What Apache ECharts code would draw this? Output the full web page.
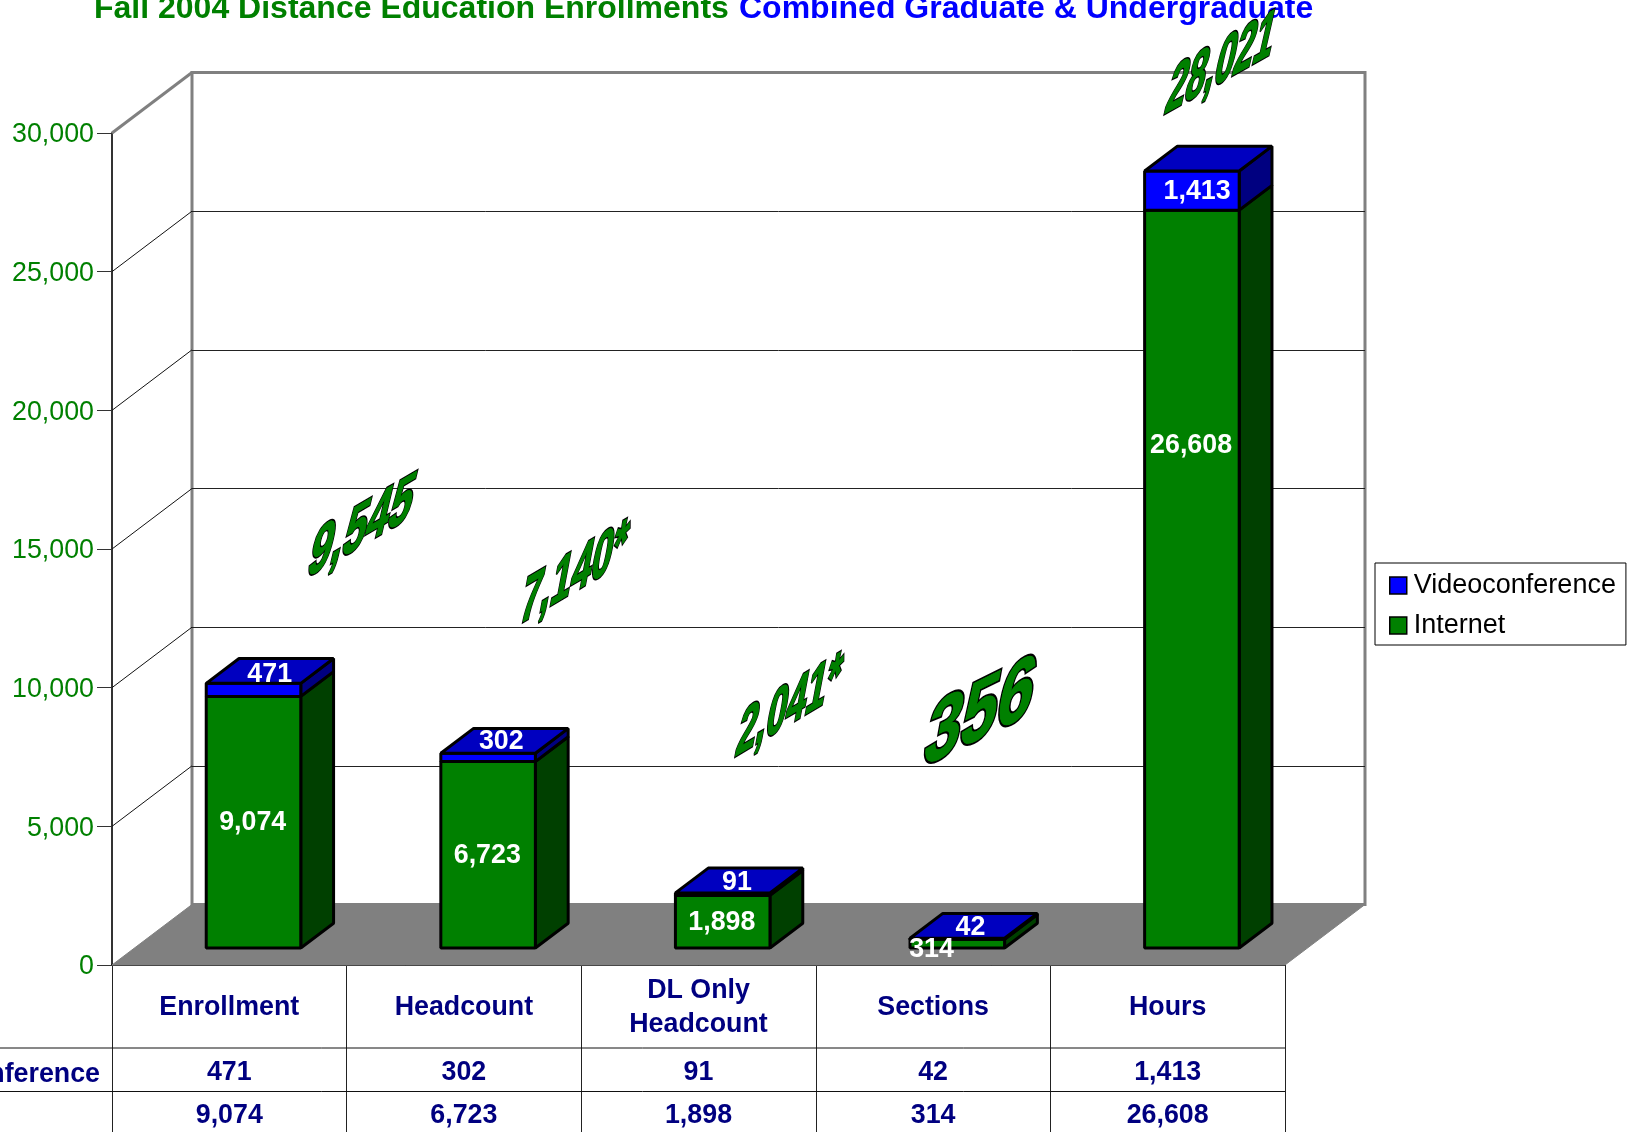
<!DOCTYPE html>
<html><head><meta charset="utf-8">
<style>html,body{margin:0;padding:0;background:#fff;overflow:hidden}#c{width:1630px;height:1132px}</style>
<script src="https://cdn.jsdelivr.net/npm/echarts@6/dist/echarts.min.js"></script>
</head><body><div id="c"></div>
<script>
const categories = ['Enrollment','Headcount','DL Only\nHeadcount','Sections','Hours'];
const videoconference = [471,302,91,42,1413];
const internet = [9074,6723,1898,314,26608];
const yTicks = [0,5000,10000,15000,20000,25000,30000];
const totalLabels = ['9,545','7,140*','2,041*','356','28,021'];
const rowNames = ['Videoconference'];

// layout only
const FF = '"Liberation Sans", Arial, sans-serif';
const GREEN='#008000', BLUE='#0000ff', NAVY='#000080';
const DX=80, DY=-60.5;              // full floor depth
const BAR_F=0.28, BAR_B=0.69;       // bar front/back as a share of the depth
const BAR_W=0.403;                  // bar width as a share of a category
const BAR_NUDGE=1.8;
const ROW_LINES=[1048,1091.5], ROW_TEXT=[1073,1116];
const fmt=v=>v.toLocaleString('en-US');
const internetLabelOffset=[[1,0.5],[1,1],[1,0.5],[-24,6],[1,-133]];
const videoLabelOffset=[[18,-15],[15,-16],[16,-12],[15,-11],[7,1.5]];
const wordArt=[
 {cx:361.5,cy:528.5,ux:1.03,uy:-.60,vx:-.42,vy:1.78},
 {cx:574,cy:575,ux:.91,uy:-.54,vx:-.32,vy:1.70},
 {cx:789,cy:707.5,ux:.89,uy:-.53,vx:-.32,vy:1.70},
 {cx:980,cy:715,ux:1.62,uy:-.8,vx:-.42,vy:2.30},
 {cx:1221,cy:65,ux:.87,uy:-.49,vx:-.4,vy:1.76}
];

function matrixText(text,p){
  const a=p.ux,b=p.vx,c=p.uy,d=p.vy;
  const E=(a+d)/2,F=(a-d)/2,G=(c+b)/2,H=(c-b)/2;
  const Q=Math.hypot(E,H),R=Math.hypot(F,G);
  const a1=Math.atan2(G,F),a2=Math.atan2(H,E);
  const theta=(a2-a1)/2,beta=(a2+a1)/2;
  const st=(stroke,lineWidth)=>({type:'text',rotation:-theta,style:{text,x:0,y:0,align:'center',verticalAlign:'middle',
      font:'bold 40px '+FF,fill:GREEN,stroke,lineWidth,lineJoin:'round'}});
  return {type:'group',x:p.cx,y:p.cy,rotation:-beta,scaleX:Q+R,scaleY:Q-R,children:[
    st('#000',2.2), st(GREEN,0.4)]};
}
function line(x1,y1,x2,y2,stroke,lineWidth){
  return {type:'line',shape:{x1,y1,x2,y2},style:{stroke,lineWidth}};
}
function poly(points,fill){
  return {type:'polygon',shape:{points},style:{fill,stroke:'#000',lineWidth:3,lineJoin:'bevel'}};
}
function barRender(front,side,topFill,baseFn){
  return function(params,api){
    const i=api.value(0),v=api.value(1),base=baseFn(i);
    const w=api.size([1,0])[0]*BAR_W;
    const c0=api.coord([i,base]),c1=api.coord([i,base+v]);
    const fx=DX*BAR_F+BAR_NUDGE,fy=DY*BAR_F,ddx=DX*(BAR_B-BAR_F),ddy=DY*(BAR_B-BAR_F);
    const L=c0[0]+fx-w/2,R=L+w,B=c0[1]+fy,T=c1[1]+fy;
    const kids=[
      poly([[R,B],[R+ddx,B+ddy],[R+ddx,T+ddy],[R,T]],side),
      poly([[L,B],[R,B],[R,T],[L,T]],front)
    ];
    if(topFill) kids.push(poly([[L,T],[R,T],[R+ddx,T+ddy],[L+ddx,T+ddy]],topFill));
    return {type:'group',children:kids};
  };
}
function labelRender(values,baseFn,offsets){
  return function(params,api){
    const i=api.value(0),v=api.value(1),base=baseFn(i);
    const c0=api.coord([i,base]),c1=api.coord([i,base+v]);
    return {type:'text',style:{text:fmt(v),
      x:c0[0]+DX*BAR_F+offsets[i][0],y:(c0[1]+c1[1])/2+DY*BAR_F+offsets[i][1],
      align:'center',verticalAlign:'middle',font:'bold 26.8px '+FF,fill:'#fff'}};
  };
}
const tableCell=r=>function(params,api){
  const i=api.value(0);
  return {type:'text',style:{text:fmt(api.value(1)),x:api.coord([i,0])[0],y:ROW_TEXT[r],
    align:'center',verticalAlign:'middle',font:'bold 26.8px '+FF,fill:NAVY}};
};
const zero=()=>0, onInternet=i=>internet[i];
const idx=arr=>arr.map((v,i)=>[i,v]);
const axisFont={fontFamily:FF,fontSize:26.8};

const option={
  animation:false,
  title:[
    {text:'Fall 2004 Distance Education Enrollments',left:94,top:-6.5,padding:0,textStyle:{fontFamily:FF,fontSize:32,fontWeight:'bold',color:GREEN}},
    {text:'Combined Graduate & Undergraduate',left:739,top:-6.5,padding:0,textStyle:{fontFamily:FF,fontSize:32,fontWeight:'bold',color:BLUE}}
  ],
  legend:{
    orient:'vertical',left:1375,top:563,padding:[9,10,6,14],itemGap:13,itemWidth:17,itemHeight:17,
    backgroundColor:'#fff',borderColor:'#000',borderWidth:1,borderRadius:0,
    textStyle:{fontFamily:FF,fontSize:27,color:'#000',padding:[0,0,0,2]},selectedMode:false,
    data:[
      {name:'Videoconference',icon:'rect',itemStyle:{color:BLUE,borderColor:'#000',borderWidth:1.5}},
      {name:'Internet',icon:'rect',itemStyle:{color:GREEN,borderColor:'#000',borderWidth:1.5}}
    ]
  },
  grid:[
    {left:112,top:133,width:1173,height:832},
    {left:192,top:72.5,width:1173,height:832,show:true,borderColor:'#808080',borderWidth:3,backgroundColor:'#fff'}
  ],
  xAxis:[
    {type:'category',gridIndex:0,data:categories,boundaryGap:true,
     axisLine:{show:true,lineStyle:{color:'#111',width:2}},
     axisTick:{show:true,length:167,alignWithLabel:false,lineStyle:{color:'#222',width:1}},
     axisLabel:{show:true,interval:0,margin:43,verticalAlign:'middle',lineHeight:34,...axisFont,fontWeight:'bold',color:NAVY}},
    {type:'category',gridIndex:1,data:categories,show:false}
  ],
  yAxis:[
    {type:'value',gridIndex:0,min:0,max:30000,interval:5000,
     axisLine:{show:true,lineStyle:{color:'#333',width:2}},
     axisTick:{show:true,length:15,lineStyle:{color:'#333',width:1}},
     splitLine:{show:false},
     axisLabel:{margin:18,...axisFont,color:GREEN,verticalAlign:'top',lineHeight:4,formatter:v=>fmt(v)}},
    {type:'value',gridIndex:1,min:0,max:30000,interval:5000,
     axisLine:{show:false},axisTick:{show:false},axisLabel:{show:false},
     splitLine:{show:true,showMaxLine:false,showMinLine:false,lineStyle:{color:'#222',width:1}}}
  ],
  series:[
    {type:'custom',name:'walls',xAxisIndex:0,yAxisIndex:0,z:1,clip:false,silent:true,data:yTicks.map(t=>[0,t]),
     renderItem(params,api){
       const v=api.value(1),cs=params.coordSys,p=api.coord([0,v]),x=cs.x,y=p[1];
       if(v===0){
         return {type:'group',children:[{type:'polygon',
           shape:{points:[[x,y],[x+DX,y+DY],[x+cs.width+DX,y+DY],[x+cs.width,y]]},
           style:{fill:'#808080',stroke:'#808080',lineWidth:1}}]};
       }
       const top=v===30000;
       return line(x,y,x+DX,y+DY,top?'#808080':'#111',top?3:1);
     }},
    {type:'custom',name:'Internet',xAxisIndex:0,yAxisIndex:0,z:3,clip:false,data:idx(internet),
     renderItem:barRender(GREEN,'#004000',null,zero)},
    {type:'custom',name:'Videoconference',xAxisIndex:0,yAxisIndex:0,z:4,clip:false,data:idx(videoconference),
     renderItem:barRender(BLUE,'#000080','#0000c0',onInternet)},
    {type:'custom',name:'internetLabels',xAxisIndex:0,yAxisIndex:0,z:6,clip:false,data:idx(internet),
     renderItem:labelRender(internet,zero,internetLabelOffset)},
    {type:'custom',name:'videoLabels',xAxisIndex:0,yAxisIndex:0,z:6,clip:false,data:idx(videoconference),
     renderItem:labelRender(videoconference,onInternet,videoLabelOffset)},
    {type:'custom',name:'rowVideo',xAxisIndex:0,yAxisIndex:0,z:6,clip:false,data:idx(videoconference),renderItem:tableCell(0)},
    {type:'custom',name:'rowInternet',xAxisIndex:0,yAxisIndex:0,z:6,clip:false,data:idx(internet),renderItem:tableCell(1)},
    {type:'custom',name:'rowLines',xAxisIndex:0,yAxisIndex:0,z:2,clip:false,silent:true,data:ROW_LINES.map((y,i)=>[0,i]),
     renderItem(params,api){
       const cs=params.coordSys,y=ROW_LINES[api.value(1)];
       return line(0,y,cs.x+cs.width,y,'#111',1);
     }},
    {type:'custom',name:'rowHead',xAxisIndex:0,yAxisIndex:0,z:6,clip:false,silent:true,data:[[0,0]],
     renderItem(params,api){
       return {type:'text',style:{text:rowNames[0],x:100,y:1075,align:'right',verticalAlign:'middle',font:'bold 26.8px '+FF,fill:NAVY}};
     }},
    {type:'custom',name:'totals',xAxisIndex:0,yAxisIndex:0,z:7,clip:false,silent:true,data:totalLabels.map((t,i)=>[i,0]),
     renderItem(params,api){
       const i=api.value(0);
       return matrixText(totalLabels[i],wordArt[i]);
     }}
  ]
};
const chart=echarts.init(document.getElementById('c'),null,{renderer:'canvas',width:1630,height:1132});
chart.setOption(option);
</script></body></html>
